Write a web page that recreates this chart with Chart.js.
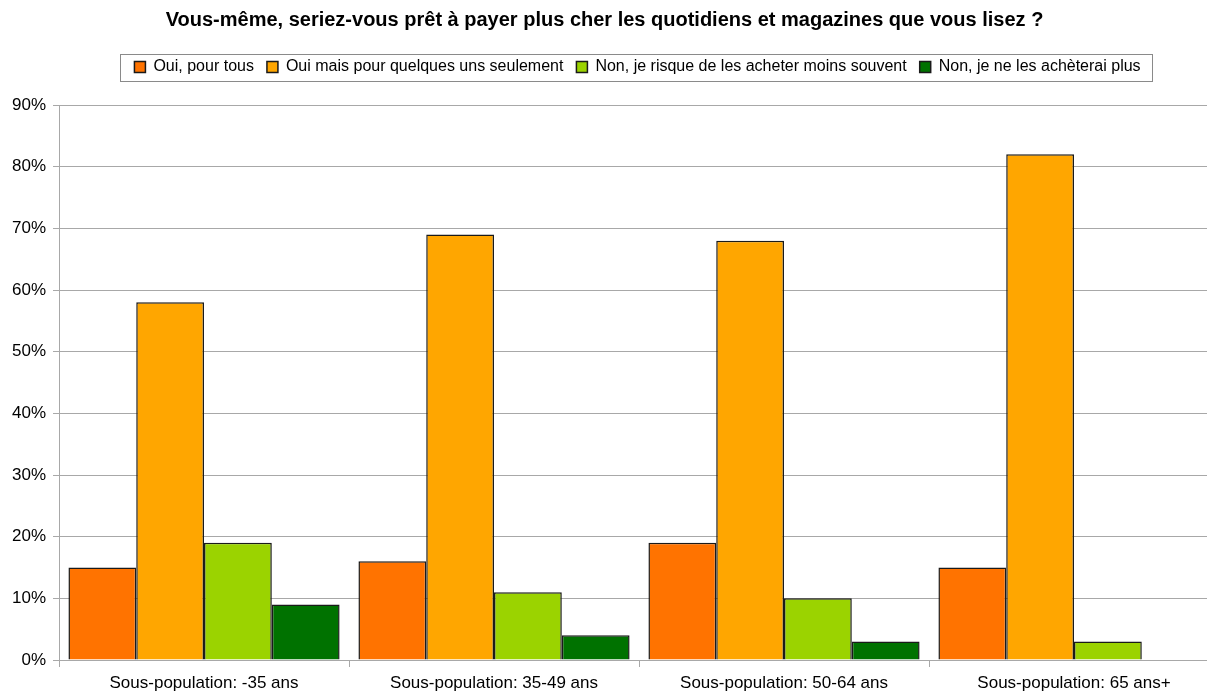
<!DOCTYPE html>
<html>
<head>
<meta charset="utf-8">
<script src="https://cdn.jsdelivr.net/npm/chart.js@4"></script>
<style>
  body { margin: 0; background: #fff; }
  #wrap { width: 1207px; height: 692px; }
</style>
</head>
<body>
<div id="wrap"><canvas id="pressChart"></canvas></div>
<script>
const categories = ["Sous-population: -35 ans", "Sous-population: 35-49 ans", "Sous-population: 50-64 ans", "Sous-population: 65 ans+"];
const seriesNames = ["Oui, pour tous", "Oui mais pour quelques uns seulement", "Non, je risque de les acheter moins souvent", "Non, je ne les achèterai plus"];
const ouiTous = [15, 16, 19, 15];
const ouiQuelques = [58, 69, 68, 82];
const nonMoins = [19, 11, 10, 3];
const nonPlus = [9, 4, 3, 0];
const colors = ["#ff7300", "#ffa600", "#9bd300", "#007200"];

const FONT = "'Liberation Sans', Arial, sans-serif";

// box round the legend + a bit more room between legend and plot
const legendBox = {
  id: "legendBox",
  beforeLayout(chart) {
    const lg = chart.legend;
    if (lg && !lg._extra) {
      const fit = lg.fit;
      lg.fit = function () { fit.call(this); this.height += 20; };
      lg._extra = true;
    }
  },
  afterLayout(chart) {
    chart.legend.left += 6;
    chart.legend.right += 6;
    // in the original the plot runs on past the right edge of the image
    const extra = 15;
    const x = chart.scales.x;
    chart.chartArea.right += extra;
    chart.chartArea.width += extra;
    x.right += extra;
    x.width += extra;
    x.configure();
  },
  afterDraw(chart) {
    const boxes = chart.legend.legendHitBoxes;
    if (!boxes || !boxes.length) return;
    let l = Infinity, r = -Infinity, t = Infinity, b = -Infinity;
    boxes.forEach(h => {
      l = Math.min(l, h.left); r = Math.max(r, h.left + h.width);
      t = Math.min(t, h.top); b = Math.max(b, h.top + h.height);
    });
    const ctx = chart.ctx;
    ctx.save();
    ctx.strokeStyle = "#8a8a8a";
    ctx.lineWidth = 1;
    ctx.strokeRect(Math.round(l - 14) + 0.5, Math.round(t - 5) + 0.5, Math.round(r - l + 26), Math.round(b - t + 11));
    ctx.restore();
  }
};

new Chart(document.getElementById("pressChart"), {
  type: "bar",
  data: {
    labels: categories,
    datasets: [ouiTous, ouiQuelques, nonMoins, nonPlus].map((d, i) => ({
      label: seriesNames[i],
      data: d,
      backgroundColor: colors[i],
      borderColor: "#1a1a1a",
      borderWidth: 1.5,
      barPercentage: 1,
      categoryPercentage: 0.935
    }))
  },
  options: {
    responsive: true,
    maintainAspectRatio: false,
    animation: false,
    layout: { padding: { left: 5, right: 3, top: 4, bottom: 0 } },
    plugins: {
      title: {
        display: true,
        text: "Vous-même, seriez-vous prêt à payer plus cher les quotidiens et magazines que vous lisez ?",
        color: "#000",
        font: { family: FONT, size: 20, weight: "bold" },
        padding: { top: 4, bottom: 14 }
      },
      legend: {
        position: "top",
        fullSize: false,
        labels: {
          color: "#000",
          font: { family: FONT, size: 16 },
          boxWidth: 11,
          boxHeight: 11,
          padding: 13
        }
      },
      tooltip: { enabled: false }
    },
    scales: {
      x: {
        grid: { offset: true, drawOnChartArea: false, drawTicks: true, tickLength: 7, color: "#a8a8a8" },
        border: { color: "#a8a8a8" },
        ticks: { color: "#000", font: { family: FONT, size: 17, lineHeight: 1 }, padding: 8 },
        afterFit(scale) { scale.height -= 8; }
      },
      y: {
        min: 0,
        max: 90,
        grid: { color: "#a8a8a8", tickLength: 6 },
        border: { color: "#a8a8a8" },
        ticks: {
          stepSize: 10,
          color: "#000",
          font: { family: FONT, size: 17 },
          padding: 7,
          callback: v => v + "%"
        }
      }
    }
  },
  plugins: [legendBox]
});
</script>
</body>
</html>
